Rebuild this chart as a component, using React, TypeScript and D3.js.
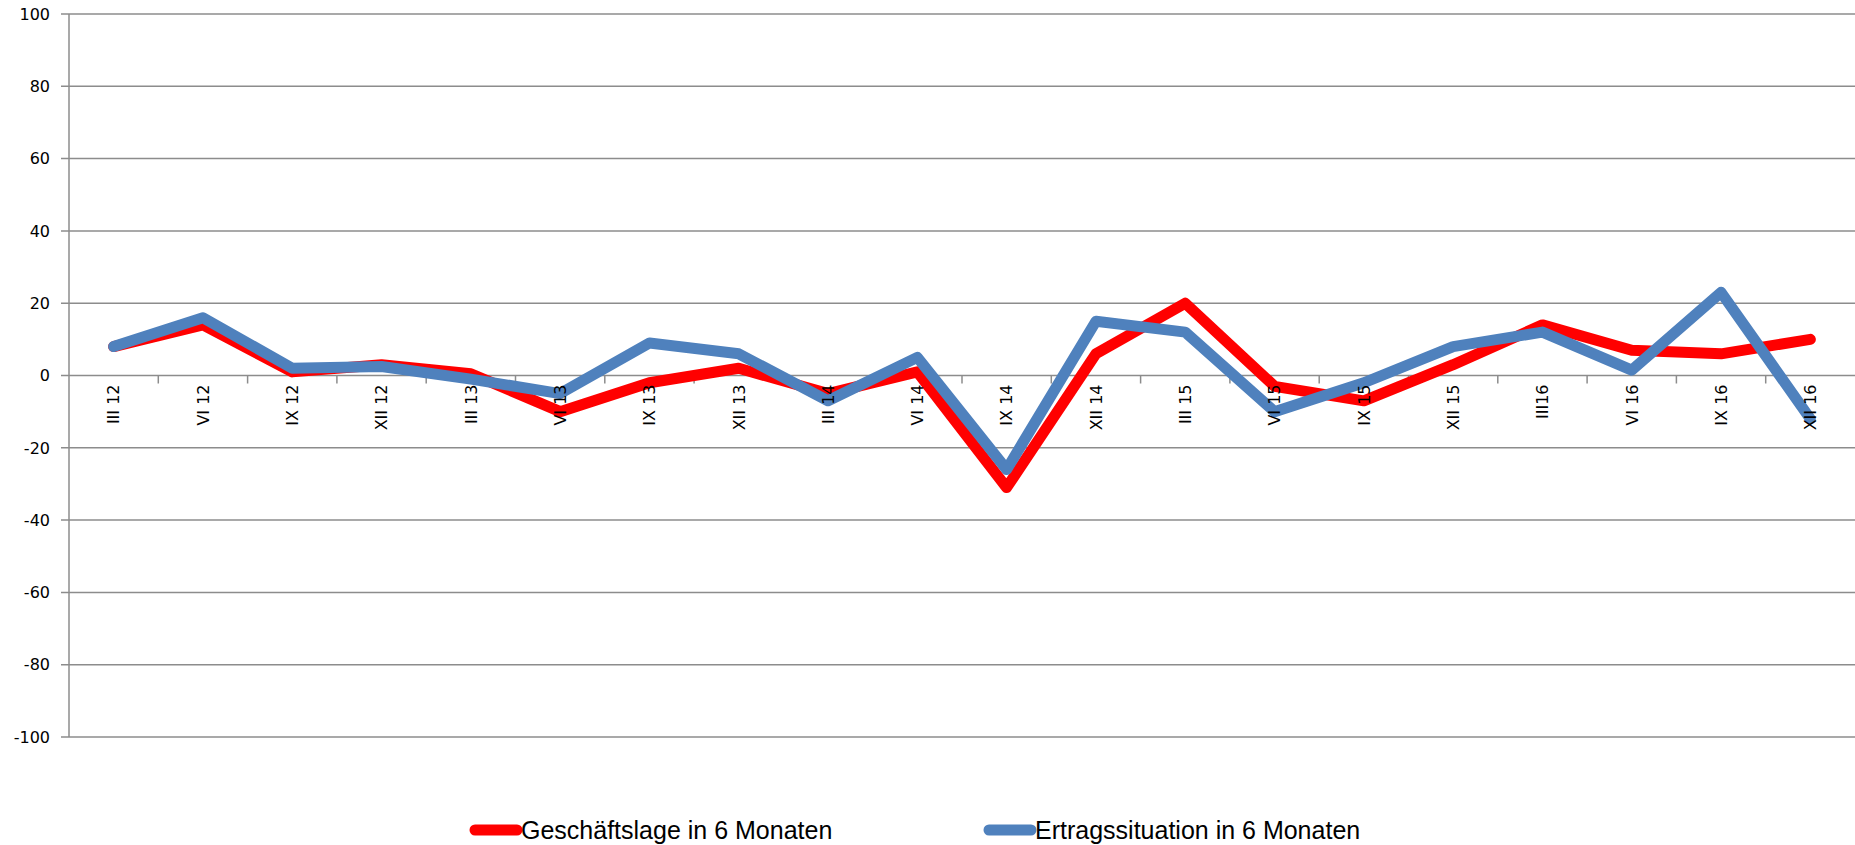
import { useEffect, useRef } from 'react';
import * as d3 from 'd3';

const categories = [
  'III 12', 'VI 12', 'IX 12', 'XII 12', 'III 13', 'VI 13', 'IX 13', 'XII 13', 'III 14', 'VI 14',
  'IX 14', 'XII 14', 'III 15', 'VI 15', 'IX 15', 'XII 15', 'III16', 'VI 16', 'IX 16', 'XII 16',
];

const geschaeftslage = [8, 14, 1, 3, 0.5, -10, -2, 2, -5, 1, -31, 6, 20, -3, -7, 3, 14, 7, 6, 10];
const ertragssituation = [8, 16, 2, 2.5, -1, -5, 9, 6, -7, 5, -26, 15, 12, -10, -2, 8, 12, 1.5, 23, -12];

const yTicks = [100, 80, 60, 40, 20, 0, -20, -40, -60, -80, -100];

const series = [
  { name: 'Geschäftslage in 6 Monaten', values: geschaeftslage, color: '#ff0000' },
  { name: 'Ertragssituation in 6 Monaten', values: ertragssituation, color: '#4f81bd' },
];

const WIDTH = 1855;
const HEIGHT = 845;

export default function App() {
  const svgRef = useRef<SVGSVGElement>(null);

  useEffect(() => {
    document.body.style.margin = '0';
    if (!svgRef.current) return;

    const svg = d3.select(svgRef.current);
    svg.selectAll('*').remove();

    const margin = { top: 14, right: 0, bottom: 108, left: 69 };
    const innerWidth = WIDTH - margin.left - margin.right;
    const innerHeight = HEIGHT - margin.top - margin.bottom;

    const x = d3.scaleBand<string>().domain(categories).range([0, innerWidth]);
    const y = d3.scaleLinear().domain([-100, 100]).range([innerHeight, 0]);

    const g = svg.append('g').attr('transform', `translate(${margin.left},${margin.top})`);

    // horizontal grid lines + y tick marks
    g.selectAll('.grid')
      .data(yTicks)
      .enter()
      .append('line')
      .attr('x1', -8)
      .attr('x2', innerWidth)
      .attr('y1', (d) => y(d))
      .attr('y2', (d) => y(d))
      .attr('stroke', '#8c8c8c')
      .attr('stroke-width', 1.5);

    g.selectAll('.ylabel')
      .data(yTicks)
      .enter()
      .append('text')
      .attr('x', -19)
      .attr('y', (d) => y(d))
      .attr('dy', '0.36em')
      .attr('text-anchor', 'end')
      .attr('font-family', 'DejaVu Sans, Verdana, sans-serif')
      .attr('font-size', 16)
      .attr('fill', '#000')
      .text((d) => d);

    // vertical axis
    g.append('line')
      .attr('x1', 0)
      .attr('x2', 0)
      .attr('y1', 0)
      .attr('y2', innerHeight)
      .attr('stroke', '#8c8c8c')
      .attr('stroke-width', 1.5);

    // category tick marks on the zero line
    const boundaries = categories.slice(1).map((c) => x(c) as number);
    g.selectAll('.xtick')
      .data(boundaries)
      .enter()
      .append('line')
      .attr('x1', (d) => d)
      .attr('x2', (d) => d)
      .attr('y1', y(0))
      .attr('y2', y(0) + 8)
      .attr('stroke', '#8c8c8c')
      .attr('stroke-width', 1.5);

    // lines
    const line = d3
      .line<number>()
      .x((_, i) => (x(categories[i]) as number) + x.bandwidth() / 2)
      .y((d) => y(d));

    series.forEach((s) => {
      g.append('path')
        .datum(s.values)
        .attr('fill', 'none')
        .attr('stroke', s.color)
        .attr('stroke-width', 11)
        .attr('stroke-linejoin', 'round')
        .attr('stroke-linecap', 'round')
        .attr('d', line);
    });

    // rotated category labels (drawn over the lines)
    g.selectAll('.xlabel')
      .data(categories)
      .enter()
      .append('text')
      .attr(
        'transform',
        (d) => `translate(${(x(d) as number) + x.bandwidth() / 2},${y(0) + 9}) rotate(-90)`,
      )
      .attr('dy', '0.36em')
      .attr('text-anchor', 'end')
      .attr('font-family', 'DejaVu Sans, Verdana, sans-serif')
      .attr('font-size', 16)
      .attr('fill', '#000')
      .text((d) => d);

    // legend
    const legendPos = [471, 985];
    series.forEach((s, i) => {
      const lg = svg.append('g').attr('transform', `translate(${legendPos[i]},830)`);
      lg.append('line')
        .attr('x1', 4)
        .attr('x2', 46)
        .attr('y1', 0)
        .attr('y2', 0)
        .attr('stroke', s.color)
        .attr('stroke-width', 11)
        .attr('stroke-linecap', 'round');
      lg.append('text')
        .attr('x', 50)
        .attr('y', 0)
        .attr('dy', '0.36em')
        .attr('font-family', 'Liberation Sans Narrow, Arial Narrow, sans-serif')
        .attr('font-size', 25)
        .attr('fill', '#000')
        .text(s.name);
    });
  }, []);

  return <svg ref={svgRef} width={WIDTH} height={HEIGHT} style={{ display: 'block', background: '#fff' }} />;
}
